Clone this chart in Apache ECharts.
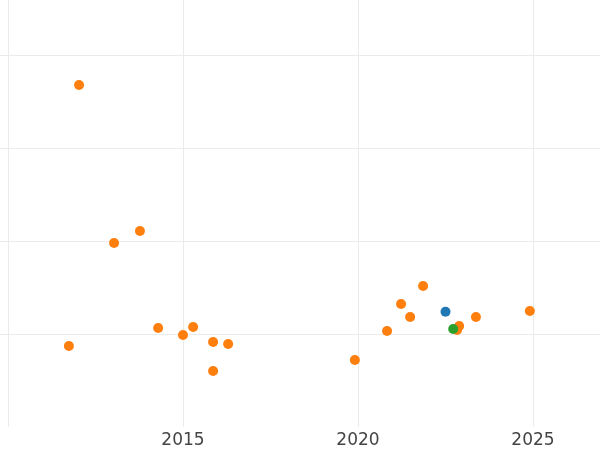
<!DOCTYPE html>
<html>
<head>
<meta charset="utf-8">
<script src="https://cdn.jsdelivr.net/npm/echarts@6/dist/echarts.min.js"></script>
<style>html,body{margin:0;padding:0;background:#fff}#c{width:600px;height:450px}</style>
</head>
<body>
<div id="c"></div>
<script>
// Data (x = year, y = unlabeled value)
var tickLabels = ['2015', '2020', '2025'];
var blueX = [2022.50];
var blueY = [1.240];
var orangeX = [2012.03, 2013.03, 2013.77, 2011.74, 2014.29, 2015.00, 2015.29, 2015.86, 2016.29, 2015.86,
               2019.91, 2020.83, 2021.23, 2021.49, 2021.86, 2022.89, 2022.83, 2023.37, 2024.91];
var orangeY = [3.677, 1.978, 2.108, 0.871, 1.065, 0.989, 1.075, 0.914, 0.892, 0.602,
               0.720, 1.032, 1.323, 1.183, 1.516, 1.086, 1.043, 1.183, 1.247];
var greenX = [2022.72];
var greenY = [1.054];

function pairs(xs, ys) { return xs.map(function (x, i) { return [x, ys[i]]; }); }

var chart = echarts.init(document.getElementById('c'), null, { renderer: 'canvas' });
chart.setOption({
  animation: false,
  backgroundColor: '#ffffff',
  grid: { left: -167, right: -108, top: -38, bottom: 23, containLabel: false, outerBoundsMode: 'none' },
  xAxis: {
    type: 'value', min: 2005, max: 2030, interval: 5,
    axisLine: { show: false }, axisTick: { show: false },
    splitLine: { show: true, lineStyle: { color: '#ebebeb', width: 1 } },
    axisLabel: {
      color: '#444', fontSize: 17, fontFamily: 'DejaVu Sans', margin: 5,
      formatter: function (v) { var s = String(Math.round(v)); return tickLabels.indexOf(s) >= 0 ? s : ''; }
    }
  },
  yAxis: {
    type: 'value', min: 0, max: 5, interval: 1,
    axisLine: { show: false }, axisTick: { show: false }, axisLabel: { show: false },
    splitLine: { show: true, showMinLine: false, lineStyle: { color: '#ebebeb', width: 1 } }
  },
  series: [
    { type: 'scatter', data: pairs(blueX, blueY), symbolSize: 10, itemStyle: { color: '#1f77b4', opacity: 1 } },
    { type: 'scatter', data: pairs(orangeX, orangeY), symbolSize: 10, itemStyle: { color: '#ff7f0e', opacity: 1 } },
    { type: 'scatter', data: pairs(greenX, greenY), symbolSize: 10, itemStyle: { color: '#2ca02c', opacity: 1 } }
  ]
});
</script>
</body>
</html>
